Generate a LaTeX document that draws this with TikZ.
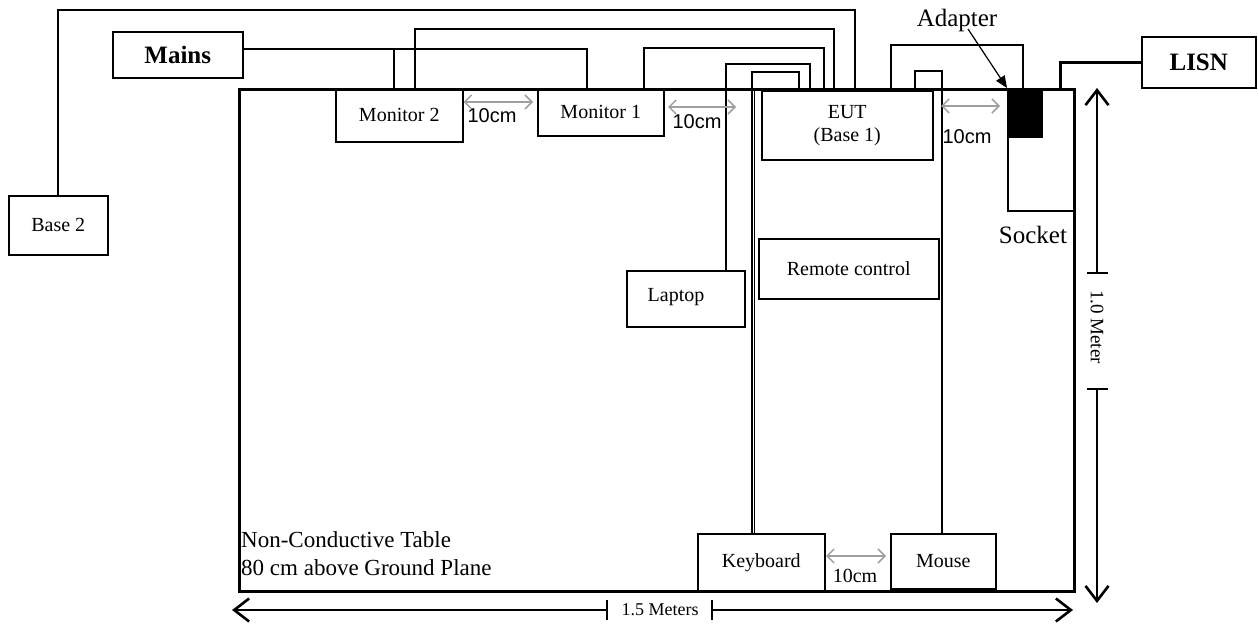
\documentclass[tikz,border=0pt]{standalone}
\usepackage{fontspec}
\setmainfont{Liberation Serif}
\newfontfamily\arialf{Liberation Sans}
\usetikzlibrary{arrows.meta}
\begin{document}
\begin{tikzpicture}[x=1pt,y=-1pt,
  box/.style={draw,line width=1.5pt,inner sep=0pt,anchor=north west,font=\fontsize{20}{23}\selectfont,align=center},
  bigbox/.style={box,font=\fontsize{25}{28}\selectfont\bfseries},
  cable/.style={line width=1.6pt},
  gap/.style={gray!75,line width=1.5pt,{Straight Barb[length=7pt,width=14pt]}-{Straight Barb[length=7pt,width=14pt]}},
  gaplabel/.style={font=\arialf\fontsize{20}{23}\selectfont,inner sep=0pt},
  dim/.style={line width=1.6pt,-{Straight Barb[length=15pt,width=23pt,line width=2.6pt]}},
  lbl/.style={inner sep=0pt,font=\fontsize{20}{23}\selectfont}]
\useasboundingbox (0,0) rectangle (1258,627);
% table
\node[draw,line width=3pt,minimum width=835pt,minimum height=502pt,anchor=north west,inner sep=0pt] (table) at (238,88) {};
% boxes
\node[box,minimum width=99pt,minimum height=59pt] (base2) at (8,195) {Base 2};
\node[bigbox,minimum width=130pt,minimum height=46pt] (mains) at (112,31) {Mains};
\node[box,minimum width=127pt,minimum height=53pt] (mon2) at (335,88) {Monitor 2};
\node[box,minimum width=126pt,minimum height=47pt] (mon1) at (537,88) {Monitor 1};
\node[box,minimum width=171pt,minimum height=69pt] (eut) at (761,90) {EUT\\(Base 1)};
\node[box,minimum width=118pt,minimum height=56pt] (laptop) at (626,270) {};
\node[lbl] (laptoptext) at (676,297) {Laptop};
\node[box,minimum width=180pt,minimum height=60pt] (remote) at (758,238) {Remote control};
\node[box,minimum width=127pt,minimum height=57pt] (keyboard) at (697,533) {Keyboard};
\node[box,minimum width=105pt,minimum height=55pt] (mouse) at (890,533) {Mouse};
\node[box,minimum width=66pt,minimum height=122pt] (socket) at (1007,88) {};
\node[draw,fill=black,inner sep=0pt,anchor=north west,minimum width=35pt,minimum height=49pt] (adapter) at (1007,88) {};
\node[bigbox,minimum width=114pt,minimum height=51pt] (lisn) at (1141,36) {LISN};
% labels
\node[lbl,font=\fontsize{25}{28}\selectfont] (adlabel) at (957,20) {Adapter};
\node[lbl,font=\fontsize{25}{28}\selectfont] (socklabel) at (1033,235) {Socket};
\node[lbl,font=\fontsize{23}{28}\selectfont,align=left,anchor=west] (tablelabel) at (241,554) {Non-Conductive Table\\80 cm above Ground Plane};
% cables
\draw[cable] (base2.north) |- (855,10) -- ([xshift=94pt]eut.north west);
\draw[cable] ([yshift=6pt]mains.east) -| ([xshift=50pt]mon1.north west);
\draw[cable] ([xshift=59pt]mon2.north west) -- (394,48);
\draw[cable] ([xshift=80pt]mon2.north west) |- (834,29) -- ([xshift=73pt]eut.north west);
\draw[cable] ([xshift=107pt]mon1.north west) |- (824,48) -- ([xshift=63pt]eut.north west);
\draw[cable] ([xshift=100pt]laptop.north west) |- (810,64) -- ([xshift=49pt]eut.north west);
\draw[cable] ([xshift=55pt]keyboard.north west) |- (799,72) -- ([xshift=38pt]eut.north west);
\draw[cable] ([xshift=57.5pt]keyboard.north west) -- (754.5,88);
\draw[cable] ([xshift=52pt]mouse.north west) |- (915,71) -- ([xshift=154pt]eut.north west);
\draw[cable] ([xshift=130pt]eut.north west) |- (1023,45) -- ([xshift=16pt]adapter.north west);
\draw[line width=3pt] (lisn.west) -| (1060,88);
% adapter arrow
\draw[line width=1.2pt,-{Triangle[length=12pt,width=10pt]}] (968,29) -- (adapter.north west);
% gaps
\draw[gap] (mon2.east |- 0,102) -- (533,102);
\node[gaplabel] (g1) at (492,116) {10cm};
\draw[gap] (668,107) -- (736,107);
\node[gaplabel] (g2) at (697,122) {10cm};
\draw[gap] (941,106) -- (1000,106);
\node[gaplabel] (g3) at (967,137) {10cm};
\draw[gap] (826,556) -- (886,556);
\node[lbl] (g4) at (855,576) {10cm};
% dimensions
\draw[dim] (1097,273) -- (1097,88);
\draw[line width=2pt] (1087,273) -- (1108,273) (1087,389) -- (1108,389);
\node[lbl,rotate=-90,font=\fontsize{19}{22}\selectfont] (hdim) at (1097,327) {1.0 Meter};
\draw[dim] (1097,389) -- (1097,603);
\draw[dim] (607,610) -- (232,610);
\draw[line width=2pt] (607,600) -- (607,620) (712,600) -- (712,620);
\node[lbl,font=\fontsize{18}{22}\selectfont] (wdim) at (660,610) {1.5 Meters};
\draw[dim] (712,610) -- (1073,610);
\end{tikzpicture}
\end{document}
